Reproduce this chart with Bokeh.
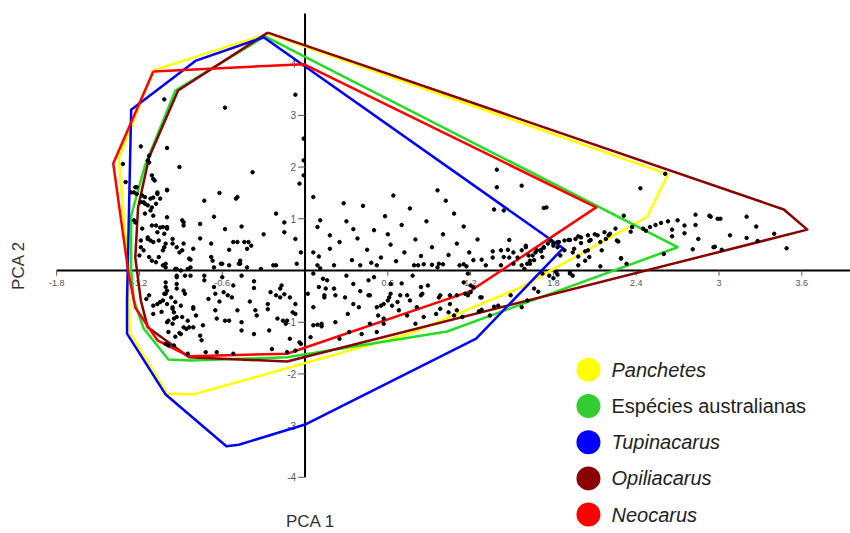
from bokeh.plotting import figure
from bokeh.models import Range1d
from bokeh.core.properties import value
from bokeh.embed import file_html
from bokeh.resources import INLINE
import math

# ---------------- data ----------------
species = ["Panchetes", "Espécies australianas", "Tupinacarus", "Opiliacarus", "Neocarus"]
label_styles = ["italic", "normal", "italic", "italic", "italic"]
hull_colors = ["#ffff00", "#22dd22", "#0000ff", "#8b0000", "#ff0000"]
legend_colors = ["#ffff00", "#33cc33", "#0000ff", "#8b0000", "#ff0000"]

hull_panchetes = [(-0.27, 4.58), (-1.10, 3.87), (-1.35, 2.17), (-1.28, 0.00), (-1.27, -1.20),
                  (-1.00, -2.38), (-0.81, -2.40), (0.76, -1.22), (1.56, -0.33), (2.48, 1.04), (2.63, 1.86)]
hull_australianas = [(-0.29, 4.53), (-0.94, 3.48), (-1.16, 2.03), (-1.26, 1.06), (-1.26, 0.00),
                     (-1.24, -0.58), (-1.17, -1.12), (-0.99, -1.72), (-0.83, -1.74), (-0.13, -1.68),
                     (1.03, -1.18), (2.70, 0.45)]
hull_tupinacarus = [(-0.30, 4.51), (-0.79, 4.06), (-1.26, 3.11), (-1.29, -0.58), (-1.29, -1.22),
                    (-1.01, -2.40), (-0.57, -3.40), (-0.48, -3.37), (0.00, -2.98), (1.24, -1.32), (1.87, 0.43)]
hull_opiliacarus = [(-0.27, 4.60), (-0.92, 3.48), (-1.13, 2.19), (-1.21, 1.22), (-1.23, 0.25),
                    (-1.19, -0.58), (-1.14, -1.10), (-0.84, -1.68), (-0.13, -1.76), (3.64, 0.79), (3.47, 1.18)]
hull_neocarus = [(-1.10, 3.85), (-0.01, 3.99), (2.11, 1.22), (1.19, -0.41), (-0.13, -1.61),
                 (-0.84, -1.66), (-1.07, -1.35), (-1.23, -0.72), (-1.28, -0.04), (-1.39, 2.07)]

pca_scores = [
    # sparse upper points
    (-1.02, 3.31), (-0.58, 3.15), (-0.07, 3.40), (-0.01, 2.55), (-0.01, 2.13), (-1.19, 2.40), (-1.00, 2.37),
    (-0.91, 2.00), (-1.13, 2.22), (-1.32, 2.06), (-1.13, 2.09), (-0.01, 1.84), (-0.04, 1.68), (-0.38, 1.90),
    (-0.62, 1.50), (-0.73, 1.35), (-0.50, 1.39), (-0.49, 1.42), (-0.21, 1.10), (-0.15, 0.93), (-0.46, 0.85),
    (-0.66, 1.04), (-0.76, 0.90), (-0.07, 0.61), (-0.03, 0.35), (-0.15, 0.74),
    # left upper cluster
    (-1.11, 1.84), (-1.09, 1.74), (-1.30, 1.71), (-1.22, 1.61), (-1.26, 1.51), (-1.24, 1.51), (-1.18, 1.45),
    (-1.10, 1.41), (-1.05, 1.39), (-1.00, 1.55), (-1.07, 1.51), (-1.17, 1.32), (-1.14, 1.26), (-1.16, 1.10),
    (-1.11, 1.22), (-1.00, 1.03), (-0.88, 0.93), (-0.89, 0.97), (-1.23, 0.93), (-1.08, 0.87), (-1.05, 0.83),
    (-1.00, 0.84), (-1.18, 0.81), (-1.14, 0.64), (-1.12, 0.58), (-1.06, 0.58), (-1.01, 0.52), (-0.96, 0.61),
    (-0.93, 0.45), (-0.88, 0.52), (-1.03, 0.39), (-1.19, 0.45), (-1.20, 0.29), (-1.13, 0.26), (-1.06, 0.26),
    (-1.01, 0.13), (-0.94, 0.03), (-0.83, 0.06), (-0.84, 0.23), (-0.91, 0.35), (-1.16, 1.42), (-1.12, 1.39),
    (-1.07, 1.48), (-1.00, 1.56), (-1.10, 1.77), (-1.22, 1.48), (-1.23, 1.61), (-1.14, 2.13), (-1.24, 0.97),
    (-1.19, 0.58), (-1.14, 0.61), (-1.10, 0.55), (-1.02, 0.45), (-0.96, 0.52), (-0.89, 0.39), (-0.83, 0.21),
    (-0.81, 0.42), (-1.11, 0.19), (-1.17, 0.39), (-1.01, 0.06), (-0.90, 0.00), (-0.85, 0.03), (-1.02, 0.71),
    (-1.07, 0.74), (-1.11, 0.87), (-1.00, 0.81), (-1.03, 0.84), (-0.88, 0.87), (-1.10, 1.06), (-1.12, 1.16),
    (-1.16, 1.29), (-1.08, 1.29), (-1.19, 1.32),
    # left-middle above axis
    (-0.68, 0.52), (-0.68, 0.26), (-0.67, 0.19), (-0.61, 0.13), (-0.55, 0.40), (-0.52, 0.55), (-0.49, 0.55),
    (-0.44, 0.55), (-0.41, 0.55), (-0.39, 0.48), (-0.42, 0.42), (-0.47, 0.19), (-0.48, 0.13), (-0.42, 0.06),
    (-0.32, 0.03), (-0.21, 0.10), (-0.60, 0.13), (-0.66, 0.06), (-0.55, 0.10), (-0.47, 0.13), (-0.23, 0.10),
    (-0.06, 0.13), (-1.08, 0.16), (-1.03, 0.10), (-0.93, 0.03), (-0.76, 0.62), (-0.30, 0.70), (-0.58, 0.80),
    # left below axis
    (-0.87, -0.10), (-0.93, -0.10), (-0.83, -0.10), (-0.73, -0.10), (-1.01, -0.23), (-0.93, -0.26),
    (-1.02, -0.45), (-1.00, -0.39), (-0.88, -0.39), (-0.97, -0.52), (-0.73, -0.19), (-0.66, -0.32),
    (-0.65, -0.45), (-0.59, -0.42), (-0.56, -0.48), (-0.52, -0.29), (-0.53, -0.52), (-0.60, -0.13),
    (-0.46, -0.10), (-0.37, -0.21), (-0.37, -0.34), (-0.25, -0.42), (-0.21, -0.48), (-0.18, -0.35),
    (-0.17, -0.29), (-0.18, -0.52), (-0.93, -0.13), (-1.01, -0.32), (-1.01, -0.45), (-1.13, -0.48),
    (-1.07, -0.65), (-1.03, -0.58), (-1.00, -0.65), (-0.94, -0.61), (-1.10, -0.68), (-0.96, -0.74),
    (-0.93, -0.90), (-0.99, -0.97), (-0.85, -0.97), (-0.88, -1.10), (-0.91, -1.21), (-0.99, -1.19),
    (-0.81, -0.71), (-0.87, -0.45), (-0.93, -0.35), (-1.15, -0.55), (-1.05, -0.61), (-1.04, -0.80),
    (-0.96, -0.71), (-0.90, -0.68), (-0.81, -0.74), (-0.95, -0.81), (-1.10, -0.84), (-1.00, -1.00),
    (-0.96, -1.03), (-0.95, -0.93), (-0.89, -0.90), (-0.86, -1.13), (-0.84, -1.10), (-0.90, -1.23),
    (-0.94, -1.28), (-0.99, -1.45), (-1.01, -1.42), (-0.95, -1.45), (-0.85, -1.61), (-0.72, -1.58),
    (-0.64, -1.58), (-0.52, -1.61), (-0.76, -1.26), (-0.75, -1.35), (-0.74, -1.06), (-0.65, -0.77),
    (-0.58, -0.97), (-0.55, -0.97), (-0.46, -1.00), (-0.46, -1.16), (-0.37, -1.23), (-0.35, -0.87),
    (-0.36, -0.77), (-0.49, -0.77), (-0.81, -1.10), (-0.26, -1.16), (-0.24, -1.52), (-0.20, -0.93),
    (-0.16, -0.97), (-0.14, -1.03), (-0.07, -0.84), (-0.07, -0.65), (-0.11, -1.32), (-0.03, -1.42),
    (-0.13, -1.58), (-0.27, -0.65), (-0.64, -0.93), (-0.79, -0.87), (-0.15, -0.46), (-0.11, -0.52),
    (-0.13, -0.97), (-0.09, -0.81), (-0.04, -1.39), (-0.07, -1.55), (-0.27, -0.75), (-0.40, -0.60),
    (-0.62, -0.60), (-0.70, -0.55),
    # centre right, above axis
    (0.06, 1.42), (0.11, 0.97), (0.09, 0.84), (0.18, 0.68), (0.06, 0.35), (0.10, 0.27), (0.18, 0.42),
    (0.11, 0.04), (0.09, 0.10), (0.21, 0.10), (0.40, 0.10), (0.52, 0.10), (0.79, 0.10), (0.82, 0.10),
    (0.97, 0.13), (0.92, 0.11), (0.96, 0.06), (1.00, 0.12), (1.12, 0.10), (1.15, 0.12), (1.17, 0.08),
    (0.25, 0.55), (0.30, 0.95), (0.34, 0.20), (0.38, 0.62), (0.42, 1.25), (0.45, 0.40), (0.50, 0.78),
    (0.55, 0.25), (0.58, 1.05), (0.62, 0.50), (0.66, 0.18), (0.70, 0.88), (0.72, 0.35), (0.76, 1.20),
    (0.80, 0.60), (0.84, 0.28), (0.88, 0.95), (0.92, 0.45), (0.96, 1.55), (1.00, 0.70), (1.04, 0.30),
    (1.08, 1.10), (1.10, 0.52), (1.15, 0.85), (1.19, 0.35), (0.28, 1.30), (0.48, 0.15), (0.64, 1.45),
    (0.86, 0.12), (1.02, 1.35), (0.35, 0.80), (0.60, 0.70), (1.22, 0.20), (1.25, 0.60),
    # centre right, below axis
    (0.06, -0.06), (0.16, -0.19), (0.21, -0.35), (0.14, -0.48), (0.35, -0.26), (0.46, -0.19), (0.50, -0.13),
    (0.62, -0.26), (0.78, -0.10), (0.84, -0.32), (0.89, -0.29), (0.47, -0.48), (0.62, -0.45), (0.69, -0.48),
    (0.02, -0.45), (0.10, -0.32), (0.15, -0.35), (0.13, -0.16), (0.09, -1.05), (0.12, -1.08), (0.06, -0.71),
    (0.04, -1.29), (0.06, -1.06), (0.12, -1.03), (0.14, -0.52), (0.22, -0.48), (0.22, -1.00), (0.31, -0.84),
    (0.29, -0.52), (0.39, -0.71), (0.35, -0.65), (0.46, -0.48), (0.52, -0.71), (0.55, -0.68), (0.57, -0.65),
    (0.60, -0.58), (0.61, -0.52), (0.63, -0.68), (0.67, -0.61), (0.68, -0.77), (0.57, -0.93), (0.53, -0.87),
    (0.57, -1.03), (0.47, -1.03), (0.52, -1.19), (0.41, -1.23), (0.32, -1.19), (0.25, -1.32), (0.74, -0.48),
    (0.76, -0.58), (0.84, -0.48), (0.81, -0.71), (0.74, -0.87), (0.80, -1.03), (0.86, -0.90), (0.95, -0.84),
    (0.98, -0.74), (1.04, -0.81), (1.08, -0.87), (1.10, -0.77), (1.14, -0.90), (1.05, -0.65), (0.97, -0.52),
    (1.18, -0.48), (1.26, -0.79), (1.28, -0.76), (1.34, -0.87), (1.37, -0.70), (1.40, -0.68), (1.28, -0.52),
    (1.49, -0.48), (1.57, -0.71), (0.85, -0.45), (0.98, -0.48), (1.05, -0.48), (1.10, -0.48), (1.27, -0.52),
    (1.18, -0.06), (1.15, -0.23), (1.20, -0.29), (1.22, -0.33), (1.20, -0.42), (1.16, -0.45), (1.83, -0.08),
    (1.94, -0.10), (2.14, 0.08), (1.72, -0.06), (0.40, -0.40), (0.30, -0.10), (0.70, -0.25),
    # tail
    (1.39, 1.95), (1.39, 1.61), (1.57, 1.64), (1.37, 1.18), (1.44, 1.16), (1.73, 1.21), (1.75, 1.22),
    (1.48, 0.59), (1.28, 0.21), (1.36, 0.25), (1.36, 0.37), (1.42, 0.39), (1.47, 0.40), (1.44, 0.26),
    (1.48, 0.25), (1.51, 0.35), (1.54, 0.25), (1.57, 0.39), (1.60, 0.45), (1.57, 0.10), (1.65, 0.29),
    (1.67, 0.35), (1.71, 0.40), (1.73, 0.45), (1.72, 0.26), (1.63, 0.13), (1.51, 0.13), (1.42, 0.10),
    (1.31, 0.10), (1.92, -0.03), (1.77, -0.10), (1.98, 0.10), (1.88, 0.58), (1.83, 0.55), (1.80, 0.48),
    (1.78, 0.58), (1.76, 0.52), (1.73, 0.44), (1.71, 0.37), (1.68, 0.39), (1.66, 0.20), (1.62, 0.29),
    (1.60, 0.48), (1.63, 0.19), (1.61, 0.13), (1.59, 0.03), (1.66, -0.35), (1.69, -0.41), (1.80, -0.15),
    (1.82, -0.03), (1.61, -0.58), (1.84, 0.55), (1.80, 0.52), (1.91, 0.59), (1.96, 0.61), (2.00, 0.64),
    (2.05, 0.68), (2.07, 0.59), (2.12, 0.68), (2.17, 0.74), (2.18, 0.61), (2.21, 0.71), (2.25, 0.81),
    (2.26, 0.58), (2.15, 0.39), (2.05, 0.39), (1.98, 0.27), (2.03, 0.19), (1.88, 0.39), (1.85, 0.29),
    (1.94, 0.35), (1.83, 0.45), (1.98, 0.66), (2.00, 0.53), (1.92, 0.59), (1.95, 0.42), (2.03, 0.37),
    (2.06, 0.26), (1.92, -0.06), (2.14, 0.55), (2.10, 0.70), (2.06, 0.57), (2.20, 0.68), (2.27, 0.56),
    (2.29, 0.23), (2.33, 0.13), (2.36, 0.75), (2.37, 0.84), (2.31, 1.06), (2.43, 1.59), (2.29, 0.24),
    # far tail
    (2.83, 1.08), (2.94, 1.04), (2.99, 1.00), (3.01, 1.00), (3.20, 1.04), (3.27, 0.85), (3.40, 0.71),
    (3.08, 0.68), (3.20, 0.63), (3.28, 0.57), (3.49, 0.43), (2.97, 0.46), (3.02, 0.40), (2.83, 0.88),
    (2.75, 0.87), (2.75, 0.72), (2.85, 0.61), (2.81, 0.41), (2.66, 0.79), (2.66, 0.66), (2.70, 0.97),
    (2.63, 0.95), (2.58, 0.92), (2.54, 0.88), (2.50, 0.84), (2.47, 0.77), (2.60, 0.32), (2.61, 1.87),
    (2.96, 0.45), (2.93, 1.06), (2.45, 0.81),
]

x_ticks = [-1.8, -1.2, -0.6, 0.6, 1.2, 1.8, 2.4, 3.0, 3.6]
x_tick_labels = ["-1.8", "-1.2", "-0.6", "0.6", "1.2", "1.8", "2.4", "3", "3.6"]
y_ticks = [-4, -3, -2, -1, 1, 2, 3, 4]
y_tick_labels = ["-4", "-3", "-2", "-1", "1", "2", "3", "4"]

# ---------------- figure ----------------
FONT = value("Liberation Sans")
p = figure(width=850, height=533, output_backend="svg", toolbar_location=None,
           x_range=Range1d(-2.207, 3.953), y_range=Range1d(-5.087, 5.222),
           x_axis_type=None, y_axis_type=None, min_border=0)
p.grid.visible = False
p.outline_line_color = None
p.background_fill_color = "white"

# axes through the origin
p.segment(x0=[-1.8], y0=[0], x1=[3.953], y1=[0], line_color="black", line_width=2)
p.segment(x0=[0], y0=[-4.0], x1=[0], y1=[4.97], line_color="black", line_width=2)
p.segment(x0=x_ticks, y0=[0] * len(x_ticks), x1=x_ticks, y1=[-0.1] * len(x_ticks),
          line_color="#555555", line_width=1)
p.segment(x0=[-0.05] * len(y_ticks), y0=y_ticks, x1=[0] * len(y_ticks), y1=y_ticks,
          line_color="#555555", line_width=1)
p.text(x=x_ticks, y=[0] * len(x_ticks), text=x_tick_labels, y_offset=13,
       text_align="center", text_baseline="middle", text_font=FONT,
       text_font_size="9px", text_color="#555555")
p.text(x=[0] * len(y_ticks), y=y_ticks, text=y_tick_labels, x_offset=-9,
       text_align="right", text_baseline="middle", text_font=FONT,
       text_font_size="10px", text_color="#555555")

# hulls
hulls = [hull_panchetes, hull_australianas, hull_tupinacarus, hull_opiliacarus, hull_neocarus]
draw_order = [0, 1, 3, 2, 4]
for i in draw_order:
    hx = [v[0] for v in hulls[i]] + [hulls[i][0][0]]
    hy = [v[1] for v in hulls[i]] + [hulls[i][0][1]]
    p.line(hx, hy, line_color=hull_colors[i], line_width=2.5, line_join="round")

# scores
sx = [s[0] for s in pca_scores]
sy = [s[1] for s in pca_scores]
p.scatter(sx, sy, size=3.5, color="black")

# axis titles
p.text(x=[0.04], y=[-4.855], text=["PCA 1"], text_align="center", text_baseline="middle",
       text_font=FONT, text_font_size="17px", text_color="#333333")
p.text(x=[-2.076], y=[0.10], text=["PCA 2"], angle=math.pi / 2, text_align="center",
       text_baseline="middle", text_font=FONT, text_font_size="17px", text_color="#333333")

# legend (drawn manually to allow mixed italic / normal labels)
leg_x, leg_y0, leg_step, leg_tx = 2.054, -1.921, 0.70, 2.221
leg_y = [leg_y0 - k * leg_step for k in range(len(species))]
p.scatter([leg_x] * len(species), leg_y, size=24, color=legend_colors, line_color=None)
p.text(x=[leg_tx] * len(species), y=leg_y, text=species, text_font_style=label_styles,
       text_align="left", text_baseline="middle", text_font=FONT,
       text_font_size="20px", text_color="#222222")

open("out.html", "w").write(file_html(p, INLINE))
